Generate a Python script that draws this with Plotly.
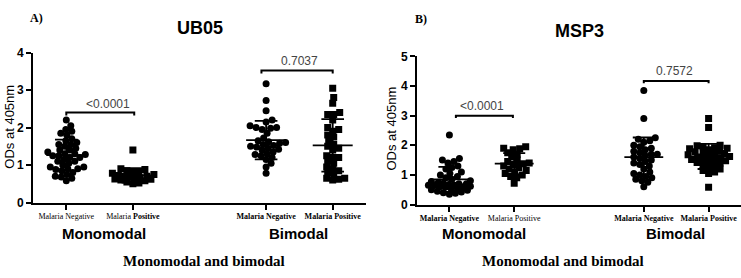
import numpy as np
import plotly.graph_objects as go

# ---------------- data ----------------
categories = ["Malaria Negative", "Malaria Positive", "Malaria Negative", "Malaria Positive"]
cat_pos = [1, 2, 4, 5]

ub05_mono_neg = [2.2, 2.05, 1.95, 1.9, 1.85, 1.8, 1.7, 1.65, 1.6, 1.55, 1.55, 1.5, 1.45, 1.4, 1.4,
                 1.35, 1.3, 1.3, 1.28, 1.25, 1.25, 1.2, 1.2, 1.15, 1.1, 1.1, 1.05, 1.0, 0.95, 0.95,
                 0.9, 0.9, 0.88, 0.85, 0.8, 0.75, 0.7, 0.68, 0.65, 0.58]
ub05_mono_pos = [1.4, 0.9, 0.88, 0.85, 0.82, 0.8, 0.78, 0.75, 0.72, 0.7, 0.7, 0.68, 0.66, 0.65,
                 0.63, 0.62, 0.6, 0.58, 0.55, 0.52, 0.5]
ub05_bi_neg = [3.17, 2.72, 2.45, 2.2, 2.15, 2.05, 2.0, 2.0, 1.98, 1.95, 1.85, 1.72, 1.65, 1.62,
               1.6, 1.58, 1.55, 1.52, 1.5, 1.48, 1.45, 1.42, 1.4, 1.35, 1.3, 1.28, 1.25, 1.2,
               1.15, 1.05, 0.95, 0.78]
ub05_bi_pos = [3.05, 2.8, 2.65, 2.4, 2.35, 2.35, 2.2, 2.0, 1.95, 1.9, 1.8, 1.75, 1.65, 1.55, 1.5,
               1.45, 1.4, 1.25, 1.2, 1.2, 1.1, 1.05, 0.95, 0.9, 0.85, 0.8, 0.75, 0.65, 0.65,
               0.62, 0.6]

msp3_mono_neg = [2.35, 1.55, 1.5, 1.45, 1.4, 1.3, 1.25, 1.2, 1.1, 1.05, 1.0, 0.95, 0.9, 0.85,
                 0.8, 0.78, 0.75, 0.72, 0.7, 0.7, 0.68, 0.66, 0.65, 0.64, 0.62, 0.6, 0.6, 0.58,
                 0.55, 0.52, 0.5, 0.48, 0.45, 0.42, 0.4, 0.38, 0.35]
msp3_mono_pos = [1.95, 1.9, 1.88, 1.85, 1.75, 1.7, 1.6, 1.5, 1.45, 1.4, 1.38, 1.35, 1.3, 1.25,
                 1.2, 1.15, 1.1, 1.05, 1.0, 0.95, 0.9, 0.72]
msp3_bi_neg = [3.85, 2.9, 2.25, 2.2, 2.15, 2.1, 2.0, 1.95, 1.9, 1.85, 1.8, 1.75, 1.7, 1.7, 1.65,
               1.6, 1.55, 1.5, 1.45, 1.4, 1.35, 1.3, 1.2, 1.1, 1.05, 1.0, 0.95, 0.9, 0.85, 0.8,
               0.75, 0.6]
msp3_bi_pos = [2.9, 2.6, 2.0, 1.98, 1.95, 1.92, 1.9, 1.88, 1.85, 1.8, 1.78, 1.75, 1.72, 1.7,
               1.68, 1.65, 1.62, 1.6, 1.58, 1.55, 1.52, 1.5, 1.48, 1.45, 1.42, 1.4, 1.35, 1.3,
               1.25, 1.2, 1.15, 1.1, 1.05, 0.58]

p_values_ub05 = ["<0.0001", "0.7037"]
p_values_msp3 = ["<0.0001", "0.7572"]

W, H = 741, 278

# axis geometry
xrange_ = [0.5, 5.5]
L_dom = [33 / W, 366 / W]
R_dom = [417 / W, 1.0]
L_ydom = [(H - 206) / H, (H - 48) / H]
R_ydom = [(H - 208) / H, (H - 52) / H]
L_yr = [0, 4]
R_yr = [0, 5]


def scales(xdom, ydom, yr):
    sx = (xdom[1] - xdom[0]) * W / (xrange_[1] - xrange_[0])
    sy = (ydom[1] - ydom[0]) * H / (yr[1] - yr[0])
    return sx, sy


def swarm(vals, sx, sy, d=6.0, maxw=21.0):
    vals = np.asarray(vals, float)
    order = np.argsort(vals)
    placed = []
    offs = np.zeros(len(vals))
    cands = [0.0]
    k = 1
    while k * 0.5 <= maxw:
        cands += [k * 0.5, -k * 0.5]
        k += 1
    for i in order:
        y = vals[i] * sy
        best, bestd = 0.0, -1.0
        chosen = None
        for c in cands:
            mind = 1e9
            for (px, py) in placed:
                dy = y - py
                if abs(dy) < d * 2:
                    dd = (c - px) ** 2 + dy ** 2
                    if dd < mind:
                        mind = dd
            if mind >= d * d:
                chosen = c
                break
            if mind > bestd:
                bestd, best = mind, c
        if chosen is None:
            chosen = best
        offs[i] = chosen
        placed.append((chosen, y))
    return offs / sx


fig = go.Figure()


def add_group(vals, pos, symbol, xa, ya, xdom, ydom, yr):
    sx, sy = scales(xdom, ydom, yr)
    offs = swarm(vals, sx, sy)
    fig.add_trace(go.Scatter(
        x=pos + offs, y=vals, mode="markers", xaxis=xa, yaxis=ya,
        marker=dict(symbol=symbol, size=7, color="black", line=dict(width=0)),
        showlegend=False, hoverinfo="y"))
    m = float(np.mean(vals))
    s = float(np.std(vals, ddof=1))
    mw, cw = 0.3, 0.17
    lx = [pos - mw, pos + mw, None, pos - cw, pos + cw, None, pos - cw, pos + cw, None, pos, pos]
    ly = [m, m, None, m + s, m + s, None, m - s, m - s, None, m - s, m + s]
    fig.add_trace(go.Scatter(x=lx, y=ly, mode="lines", xaxis=xa, yaxis=ya,
                             line=dict(color="black", width=1.8), showlegend=False,
                             hoverinfo="skip"))


groups_L = [ub05_mono_neg, ub05_mono_pos, ub05_bi_neg, ub05_bi_pos]
groups_R = [msp3_mono_neg, msp3_mono_pos, msp3_bi_neg, msp3_bi_pos]
symbols = ["circle", "square", "circle", "square"]
for g, p, sym in zip(groups_L, cat_pos, symbols):
    add_group(g, p, sym, "x", "y", L_dom, L_ydom, L_yr)
for g, p, sym in zip(groups_R, cat_pos, symbols):
    add_group(g, p, sym, "x2", "y2", R_dom, R_ydom, R_yr)

ticktext_L = ["Malaria Negative", "Malaria <b>Positive</b>",
              "<b>Malaria Negative</b>", "<b>Malaria Positive</b>"]
ticktext_R = ["<b>Malaria Negative</b>", "Malaria Positive",
              "<b>Malaria Negative</b>", "<b>Malaria Positive</b>"]

xcommon = dict(range=xrange_, showline=True, linecolor="black", linewidth=2,
               ticks="outside", ticklen=5, tickwidth=1.5, tickcolor="black",
               showgrid=False, zeroline=False, tickvals=cat_pos,
               tickfont=dict(family="Liberation Serif", size=8, color="black"))
ycommon = dict(showline=True, linecolor="black", linewidth=2, ticks="outside",
               ticklen=5, tickwidth=2, tickcolor="black", showgrid=False,
               zeroline=False, dtick=1,
               tickfont=dict(family="Liberation Sans", size=12, color="black", weight="bold"))

fig.update_layout(
    width=W, height=H, margin=dict(l=0, r=0, t=0, b=0),
    paper_bgcolor="white", plot_bgcolor="white",
    xaxis=dict(domain=L_dom, anchor="y", ticktext=ticktext_L, **xcommon),
    yaxis=dict(domain=L_ydom, anchor="x", range=L_yr, **ycommon),
    xaxis2=dict(domain=R_dom, anchor="y2", ticktext=ticktext_R, **xcommon),
    yaxis2=dict(domain=R_ydom, anchor="x2", range=R_yr, **ycommon),
)


def px_ann(text, x, y, size, family="Liberation Sans", bold=False, angle=0, color="black"):
    fig.add_annotation(text=text, x=x / W, y=1 - y / H, xref="paper", yref="paper",
                       showarrow=False, xanchor="center", yanchor="middle", textangle=angle,
                       font=dict(family=family, size=size, color=color,
                                 weight="bold" if bold else "normal"))


# titles and labels
px_ann("UB05", 200, 22, 18, bold=True)
px_ann("MSP3", 579, 25, 18, bold=True)
px_ann("A)", 36, 12, 12, family="Liberation Serif", bold=True)
px_ann("B)", 421, 13, 12, family="Liberation Serif", bold=True)
px_ann("ODs at 405nm", 10, 126, 13, angle=-90)
px_ann("ODs at 405nm", 392, 128, 13, angle=-90)
px_ann("Monomodal", 104, 238, 15, bold=True)
px_ann("Bimodal", 298, 238, 15, bold=True)
px_ann("Monomodal", 484, 238, 15, bold=True)
px_ann("Bimodal", 675, 238, 15, bold=True)
px_ann("Monomodal and bimodal", 204, 267, 15, family="Liberation Serif", bold=True)
px_ann("Monomodal and bimodal", 563, 267, 15, family="Liberation Serif", bold=True)


def bracket(xa, ya, x0, x1, yv, tick, text, tx, ty):
    fig.add_shape(type="path", xref=xa, yref=ya,
                  path=f"M {x0} {yv - tick} L {x0} {yv} L {x1} {yv} L {x1} {yv - tick}",
                  line=dict(color="black", width=2))
    fig.add_annotation(text=text, x=tx, y=ty, xref=xa, yref=ya, showarrow=False,
                       xanchor="center", yanchor="middle",
                       font=dict(family="Liberation Sans", size=12, color="#444"))


bracket("x", "y", 1, 2.02, 2.4, 0.08, p_values_ub05[0], 1.62, 2.63)
bracket("x", "y", 3.93, 5.0, 3.52, 0.08, p_values_ub05[1], 4.5, 3.77)
bracket("x2", "y2", 1.1, 1.98, 3.0, 0.08, p_values_msp3[0], 1.5, 3.33)
bracket("x2", "y2", 4.0, 5.0, 4.17, 0.08, p_values_msp3[1], 4.48, 4.49)

fig.write_html("out.html", config={"displayModeBar": False},
               post_script="document.body.style.margin='0';document.body.style.overflow='hidden';")
